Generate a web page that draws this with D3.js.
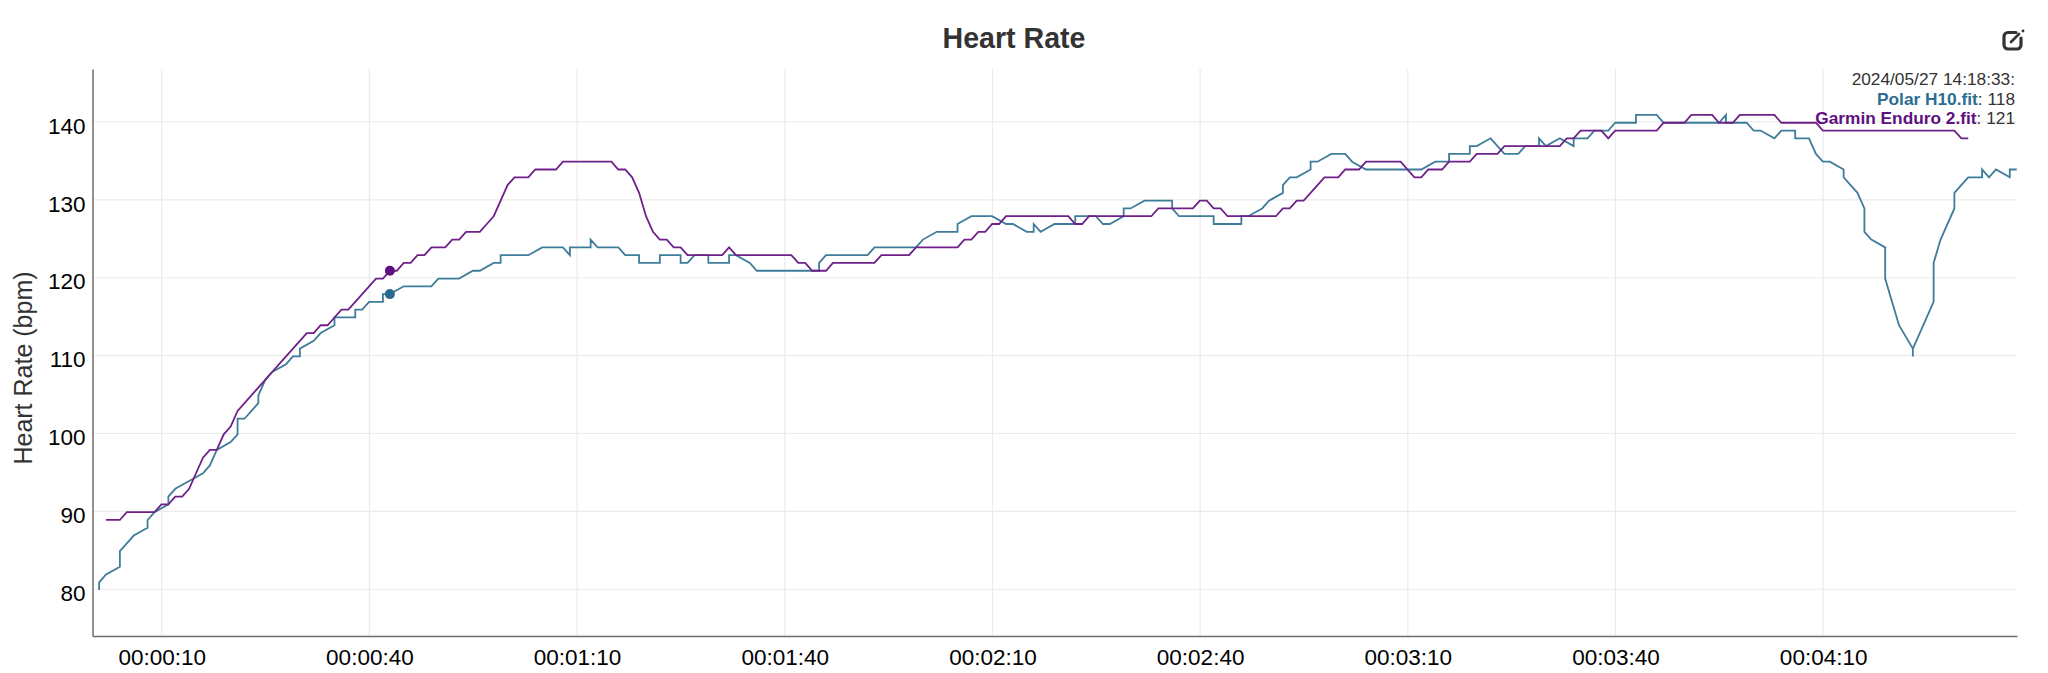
<!DOCTYPE html>
<html><head><meta charset="utf-8">
<script src="https://cdn.jsdelivr.net/npm/d3@7"></script>
<style>html,body{margin:0;padding:0;background:#fff;overflow:hidden}svg{display:block}text{font-family:"Liberation Sans",Arial,sans-serif}</style>
</head><body><svg id="c" width="2048" height="673"></svg>
<script>
const chartTitle = "Heart Rate";
const yTitle = "Heart Rate (bpm)";
const yTicks = [80, 90, 100, 110, 120, 130, 140];
const xTicks = [10, 40, 70, 100, 130, 160, 190, 220, 250];
const polarName = "Polar H10.fit";
const garminName = "Garmin Enduro 2.fit";
const stamp = "2024/05/27 14:18:33:";
const cursorTime = 43;
const polarCursor = 118;
const garminCursor = 121;
const polarTimes = [1,1,2,4,4,5,6,8,8,9,11,11,12,14,16,17,18,20,21,21,22,23,24,24,25,26,28,29,30,30,32,33,35,35,38,38,39,40,42,42,43,45,49,50,53,55,56,58,59,59,63,65,68,69,69,72,72,73,76,77,79,79,82,82,85,85,86,87,89,89,92,92,93,95,96,105,105,106,112,113,119,120,122,125,125,127,130,132,133,135,136,136,137,139,142,142,145,146,147,149,149,150,152,156,156,157,162,162,166,166,167,169,170,172,172,173,174,176,176,177,179,181,182,184,192,194,196,196,199,199,200,202,204,206,207,209,209,210,212,214,214,216,217,219,220,223,223,226,227,235,236,236,239,240,241,243,244,246,246,248,249,250,251,253,253,254,255,256,256,257,259,259,260,261,263,263,263,264,265,266,266,267,269,269,270,271,273,273,274,275,277,277,278];
const polarValues = [80,81,82,83,85,86,87,88,89,90,91,92,93,94,95,96,98,99,100,102,102,103,104,105,107,108,109,110,110,111,112,113,114,115,115,116,116,117,117,118,118,119,119,120,120,121,121,122,122,123,123,124,124,123,124,124,125,124,124,123,123,122,122,123,123,122,122,123,123,122,122,123,123,122,121,121,122,123,123,124,124,125,126,126,127,128,128,127,127,126,126,127,126,127,127,128,128,127,127,128,129,129,130,130,129,128,128,127,127,128,128,129,130,131,132,133,133,134,135,135,136,136,135,134,134,135,135,136,136,137,137,138,136,136,137,137,138,137,138,137,138,138,139,139,140,140,141,141,140,140,141,140,140,139,139,138,139,139,138,138,136,135,135,134,133,132,131,129,126,125,124,120,117,114,111,110,111,113,115,117,122,125,129,131,132,133,133,134,133,134,133,134,134];
const garminTimes = [2,4,5,9,10,11,12,13,14,15,16,17,18,19,20,21,25,26,27,28,29,30,31,32,33,34,35,36,37,38,39,40,41,42,43,44,45,46,47,48,49,51,52,53,54,56,57,58,59,60,61,63,64,67,68,75,76,77,78,79,80,81,82,83,84,85,86,91,92,93,101,102,103,104,106,107,113,114,118,119,125,126,127,128,129,130,131,132,141,142,143,144,153,154,159,160,161,162,163,164,171,172,173,174,175,178,180,181,183,184,189,191,192,193,195,196,199,200,203,204,212,213,214,215,218,219,220,226,227,230,231,234,235,237,238,243,244,249,250,269,270,271];
const garminValues = [89,89,90,90,91,91,92,92,93,95,97,98,98,100,101,103,107,108,109,110,111,112,113,113,114,114,115,116,116,117,118,119,120,120,121,121,122,122,123,123,124,124,125,125,126,126,127,128,130,132,133,133,134,134,135,135,134,134,133,131,128,126,125,125,124,124,123,123,124,123,123,122,122,121,121,122,122,123,123,124,124,125,125,126,126,127,127,128,128,127,127,128,128,129,129,130,130,129,129,128,128,129,129,130,130,133,133,134,134,135,135,133,133,134,134,135,135,136,136,137,137,138,138,139,139,138,139,139,140,140,141,141,140,140,141,141,140,140,139,139,138,138];

const svg = d3.select("#c");
const x = d3.scaleLinear().domain([0, 278]).range([92.5, 2017]);
const y = d3.scaleLinear().domain([74, 146.8]).range([636, 69]);
const fmt = s => [Math.floor(s/3600), Math.floor(s/60)%60, s%60].map(d => String(d).padStart(2,"0")).join(":");

// grid
svg.append("g").selectAll("line").data(yTicks).join("line")
  .attr("x1", x.range()[0]).attr("x2", x.range()[1]).attr("y1", d=>y(d)).attr("y2", d=>y(d))
  .attr("stroke", "#ebebeb").attr("stroke-width", 1.2);
svg.append("g").selectAll("line").data(xTicks).join("line")
  .attr("y1", y.range()[0]).attr("y2", y.range()[1]).attr("x1", d=>x(d)).attr("x2", d=>x(d))
  .attr("stroke", "#ebebeb").attr("stroke-width", 1.2);

// axes
const xAxis = svg.append("g").attr("transform", `translate(0,${y.range()[0]})`)
  .call(d3.axisBottom(x).tickValues(xTicks).tickFormat(fmt).tickSize(0).tickPadding(13));
const yAxis = svg.append("g").attr("transform", `translate(${x.range()[0]},0)`)
  .call(d3.axisLeft(y).tickValues(yTicks).tickSize(0).tickPadding(7));
[xAxis, yAxis].forEach(a => {
  a.selectAll("text").attr("font-size", 22.5).attr("fill", "#000").style("font-family", '"Liberation Sans",Arial,sans-serif');
  a.select(".domain").attr("stroke", "#6e6e6e").attr("stroke-width", 1.5);
});
yAxis.selectAll("text").attr("dy", "0.5em");

// series
const pairs = (ts, vs) => ts.map((t,i) => [t, vs[i]]);
const line = d3.line().x(d=>x(d[0])).y(d=>y(d[1]));
const marks = svg.append("g").attr("transform", "translate(-0.3,0.8)");
marks.append("path").attr("d", line(pairs(polarTimes, polarValues))).attr("fill","none").attr("stroke","#3f7c99").attr("stroke-width",1.8);
marks.append("path").attr("d", line(pairs(garminTimes, garminValues))).attr("fill","none").attr("stroke","#6f2189").attr("stroke-width",1.8);
marks.append("circle").attr("cx",x(cursorTime)).attr("cy",y(polarCursor)).attr("r",5).attr("fill","#2a6a90");
marks.append("circle").attr("cx",x(cursorTime)).attr("cy",y(garminCursor)).attr("r",5).attr("fill","#5e0f80");

// titles
svg.append("text").attr("x",1014).attr("y",48).attr("text-anchor","middle").attr("font-size",28.6).attr("font-weight","bold").attr("fill","#333").text(chartTitle);
svg.append("text").attr("transform","translate(32,368) rotate(-90)").attr("text-anchor","middle").attr("font-size",25).attr("fill","#333").text(yTitle);

// readout
const ro = svg.append("g").attr("text-anchor","end").attr("font-size",17.3).attr("fill","#333");
ro.append("text").attr("x",2015).attr("y",85).text(stamp);
const r1 = ro.append("text").attr("x",2015).attr("y",104.5);
r1.append("tspan").attr("font-weight","bold").attr("fill","#2c6e92").text(polarName);
r1.append("tspan").text(": "+polarCursor);
const r2 = ro.append("text").attr("x",2015).attr("y",124);
r2.append("tspan").attr("font-weight","bold").attr("fill","#5e0f80").text(garminName);
r2.append("tspan").text(": "+garminCursor);

// export icon
const ic = svg.append("g").attr("fill","none").attr("stroke","#333").attr("stroke-width",3.2).attr("stroke-linecap","round").attr("stroke-linejoin","round");
ic.append("path").attr("d","M2016 32.5H2008a4 4 0 0 0-4 4V45a4 4 0 0 0 4 4H2017a4 4 0 0 0 4-4V38");
ic.append("path").attr("d","M2011 42L2019 34").attr("stroke-width",2.6);
svg.append("circle").attr("cx",2023).attr("cy",31).attr("r",1.4).attr("fill","#333");
</script></body></html>
